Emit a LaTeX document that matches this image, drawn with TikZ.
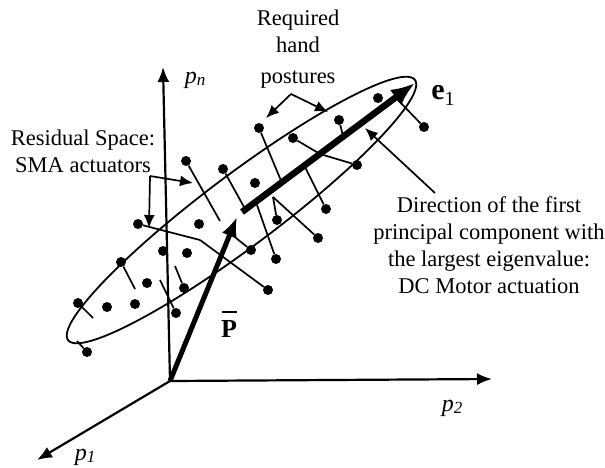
\documentclass[tikz,border=0pt]{standalone}
\usepackage{fontspec}
\setmainfont{Liberation Serif}
\usetikzlibrary{arrows.meta}
\begin{document}
\begin{tikzpicture}[x=1pt,y=-1pt,
  dot/.style={circle,fill=black,inner sep=0pt,minimum size=10pt},
  stub/.style={line width=1.7pt},
  axisarrow/.style={line width=2.2pt,-{Latex[length=15pt,width=12pt]}},
  callout/.style={line width=1.7pt,-{Latex[length=13pt,width=11pt]}},
  thickarrow/.style={line width=6.5pt,-{Latex[length=24pt,width=19pt]}},
  lbl/.style={font=\fontsize{22.5}{27}\selectfont,inner sep=0pt,align=center},
  mathlbl/.style={font=\fontsize{24}{26}\selectfont,inner sep=0pt}
]
\useasboundingbox (0,0) rectangle (605,467);
% axes
\coordinate (O) at (170,381);
\coordinate (pnT) at (163,67);
\coordinate (p2T) at (492,379);
\coordinate (p1T) at (37,460);
\draw[axisarrow] (O) -- (pnT);
\draw[axisarrow] (O) -- (p2T);
\draw[axisarrow] (O) -- (p1T);
% ellipse
\draw[line width=1.8pt] plot[domain=0:360,samples=181]
  ({241.5+173.4*cos(\x)+21.6*sin(\x)},{210-130.1*cos(\x)+28.8*sin(\x)}) -- cycle;
% feet on principal axis
\coordinate (f1) at (220,221);
\coordinate (f2) at (244,207);
\coordinate (f4) at (200,240);
\coordinate (f6) at (273,197);
\coordinate (f9) at (226,230);
\coordinate (f10) at (257,205);
\coordinate (f11) at (135,289);
\coordinate (f13) at (175,266);
\coordinate (f17) at (282,183);
\coordinate (f18) at (320,154);
\coordinate (f19) at (343,136);
\coordinate (f24) at (305,167);
\coordinate (f27) at (397,99);
\coordinate (f28) at (93,318);
\coordinate (f29) at (160,280);
\coordinate (f30) at (77,341);
% dots
\foreach \n/\px/\py in {1/186/161,2/223/169,3/255/183,4/138/224,5/199/224,6/277/220,
  7/163/251,8/187/253,9/251/250,10/276/259,11/121/262,12/147/283,13/184/288,
  14/268/290,15/107/307,16/135/304,17/259/128,18/293/138,19/339/120,20/378/98,
  23/357/165,24/326/209,26/318/238,27/424/127,28/78/303,29/176/313,30/87/352}
  {\node[dot] (d\n) at (\px,\py) {};}
% residual stubs
\draw[stub] (d1) -- (f1);
\draw[stub] (d2) -- (f2);
\draw[stub] (d4) -- (f4);
\draw[stub] (d14) -- (f4);
\draw[stub] (d6) -- (f6);
\draw[stub] (d26) -- (f6);
\draw[stub] (d9) -- (f9);
\draw[stub] (d10) -- (f10);
\draw[stub] (d11) -- (f11);
\draw[stub] (d13) -- (f13);
\draw[stub] (d17) -- (f17);
\draw[stub] (d18) -- (f18);
\draw[stub] (d23) -- (f18);
\draw[stub] (d19) -- (f19);
\draw[stub] (d24) -- (f24);
\draw[stub] (d27) -- (f27);
\draw[stub] (d28) -- (f28);
\draw[stub] (d29) -- (f29);
\draw[stub] (d30) -- (f30);
% thick vectors
\coordinate (E1s) at (242,212);
\coordinate (E1t) at (415,83);
\draw[thickarrow] (E1s) -- (E1t);
\coordinate (Pt) at (237,217);
\draw[line width=5pt,-{Latex[length=20pt,width=16pt]}] (O) -- (Pt);
% callouts
\coordinate (rc) at (150,176);
\coordinate (rr) at (193,183);
\coordinate (rd) at (149,228);
\draw[callout] (rc) -- (rr);
\draw[callout] (rc) -- (rd);
\coordinate (pa) at (291,94);
\coordinate (pl) at (266,118);
\coordinate (pr) at (328,112);
\draw[callout] (pa) -- (pl);
\draw[callout] (pa) -- (pr);
\coordinate (ds) at (435,193);
\coordinate (dt) at (365,128);
\draw[callout] (ds) -- (dt);
% labels
\node[lbl] (res) at (83,151) {Residual Space:\\SMA actuators};
\node[lbl] (req) at (298,49) {Required\\hand\\[4pt]postures};
\node[lbl] (dir) at (489,245) {Direction of the first\\principal component with\\the largest eigenvalue:\\DC Motor actuation};
\node[mathlbl] (lpn) at (195,80) {\textit{p}\raisebox{-2pt}{\fontsize{17}{17}\selectfont\textit{n}}};
\node[mathlbl] (lp2) at (452,408) {\textit{p}\raisebox{-2pt}{\fontsize{17}{17}\selectfont\textit{2}}};
\node[mathlbl] (lp1) at (85,457) {\textit{p}\raisebox{-2pt}{\fontsize{17}{17}\selectfont\textit{1}}};
\node[inner sep=0pt] (le1) at (443,95) {\fontsize{30}{30}\selectfont\textbf{e}\raisebox{-6pt}{\fontsize{20}{20}\selectfont 1}};
\node[inner sep=0pt] (lP) at (229,329) {\fontsize{26}{26}\selectfont\textbf{P}};
\coordinate (barL) at (222,312);
\coordinate (barR) at (237,312);
\draw[line width=2.4pt] (barL) -- (barR);
\end{tikzpicture}
\end{document}
